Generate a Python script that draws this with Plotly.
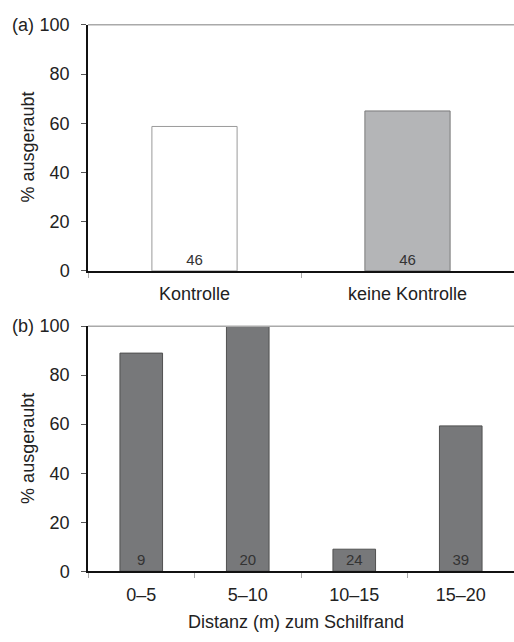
import plotly.graph_objects as go

# Panel (a): predation with / without control
treatments = ["Kontrolle", "keine Kontrolle"]
pct_a = [58.7, 65.0]
n_a = [46, 46]

# Panel (b): predation by distance to reed edge
distances = ["0–5", "5–10", "10–15", "15–20"]
pct_b = [89.0, 100.0, 9.0, 59.3]
n_b = [9, 20, 24, 39]

y_ticks = [0, 20, 40, 60, 80, 100]

W, H = 514, 642
FONT = "Liberation Sans, Arial, sans-serif"
TXT = "#222222"


def px_y(p):
    return 1 - p / H


fig = go.Figure()

fig.add_trace(go.Bar(
    x=treatments, y=pct_a, text=[str(v) for v in n_a],
    marker=dict(color=["#ffffff", "#b4b5b7"],
                line=dict(color=["#9a9a9a", "#7a7a7a"], width=1)),
    width=0.4, textposition="inside", insidetextanchor="start",
    textangle=0, constraintext="none",
    textfont=dict(size=15, color="#333333", family=FONT),
    xaxis="x", yaxis="y", hoverinfo="skip", showlegend=False,
))

fig.add_trace(go.Bar(
    x=distances, y=pct_b, text=[str(v) for v in n_b],
    marker=dict(color="#77787a", line=dict(color="#505050", width=1)),
    width=0.4, textposition="inside", insidetextanchor="start",
    textangle=0, constraintext="none",
    textfont=dict(size=15, color="#333333", family=FONT),
    xaxis="x2", yaxis="y2", hoverinfo="skip", showlegend=False,
))

xdom = [88 / W, 1.0]

common_x = dict(
    type="category", showline=True, linecolor="#111111", linewidth=1.5,
    ticks="outside", tickson="boundaries", ticklen=5, tickcolor="#aaaaaa",
    tickwidth=1, showgrid=False, zeroline=False, domain=xdom,
    tickfont=dict(size=18, color=TXT, family=FONT), ticklabelstandoff=6,
    fixedrange=True,
)
common_y = dict(
    range=[0, 100], tickvals=y_ticks, showline=True, linecolor="#111111",
    linewidth=1.5, ticks="outside", ticklen=5, tickcolor="#555555",
    showgrid=False, zeroline=False,
    tickfont=dict(size=18, color=TXT, family=FONT), ticklabelstandoff=8,
    fixedrange=True,
)

fig.update_layout(
    width=W, height=H,
    margin=dict(l=0, r=0, t=0, b=0),
    paper_bgcolor="white", plot_bgcolor="white",
    bargap=0.6,
    xaxis=dict(**common_x, anchor="y", range=[-0.5, 1.5]),
    yaxis=dict(**common_y, anchor="x", domain=[px_y(269.3), px_y(15.3)]),
    xaxis2=dict(**common_x, anchor="y2", range=[-0.5, 3.5]),
    yaxis2=dict(**common_y, anchor="x2", domain=[px_y(579.3), px_y(326.3)]),
    font=dict(family=FONT, color=TXT),
)

# Light top border of each panel
for xr, yr in (("x domain", "y domain"), ("x2 domain", "y2 domain")):
    fig.add_shape(type="line", xref=xr, yref=yr, x0=0, x1=1, y0=1, y1=1,
                  line=dict(color="#aaaaaa", width=1.5))

annots = [
    dict(text="% ausgeraubt", x=28 / W, y=px_y(142), textangle=-90),
    dict(text="% ausgeraubt", x=28 / W, y=px_y(453), textangle=-90),
    dict(text="(a)", x=23 / W, y=px_y(15.5)),
    dict(text="(b)", x=23 / W, y=px_y(326.5)),
    dict(text="Distanz (m) zum Schilfrand", x=296 / W, y=px_y(632)),
]
for a in annots:
    fig.add_annotation(xref="paper", yref="paper", showarrow=False,
                       xanchor="center", yanchor="middle",
                       font=dict(size=18, color=TXT, family=FONT), **a)

fig.write_html("out.html")
